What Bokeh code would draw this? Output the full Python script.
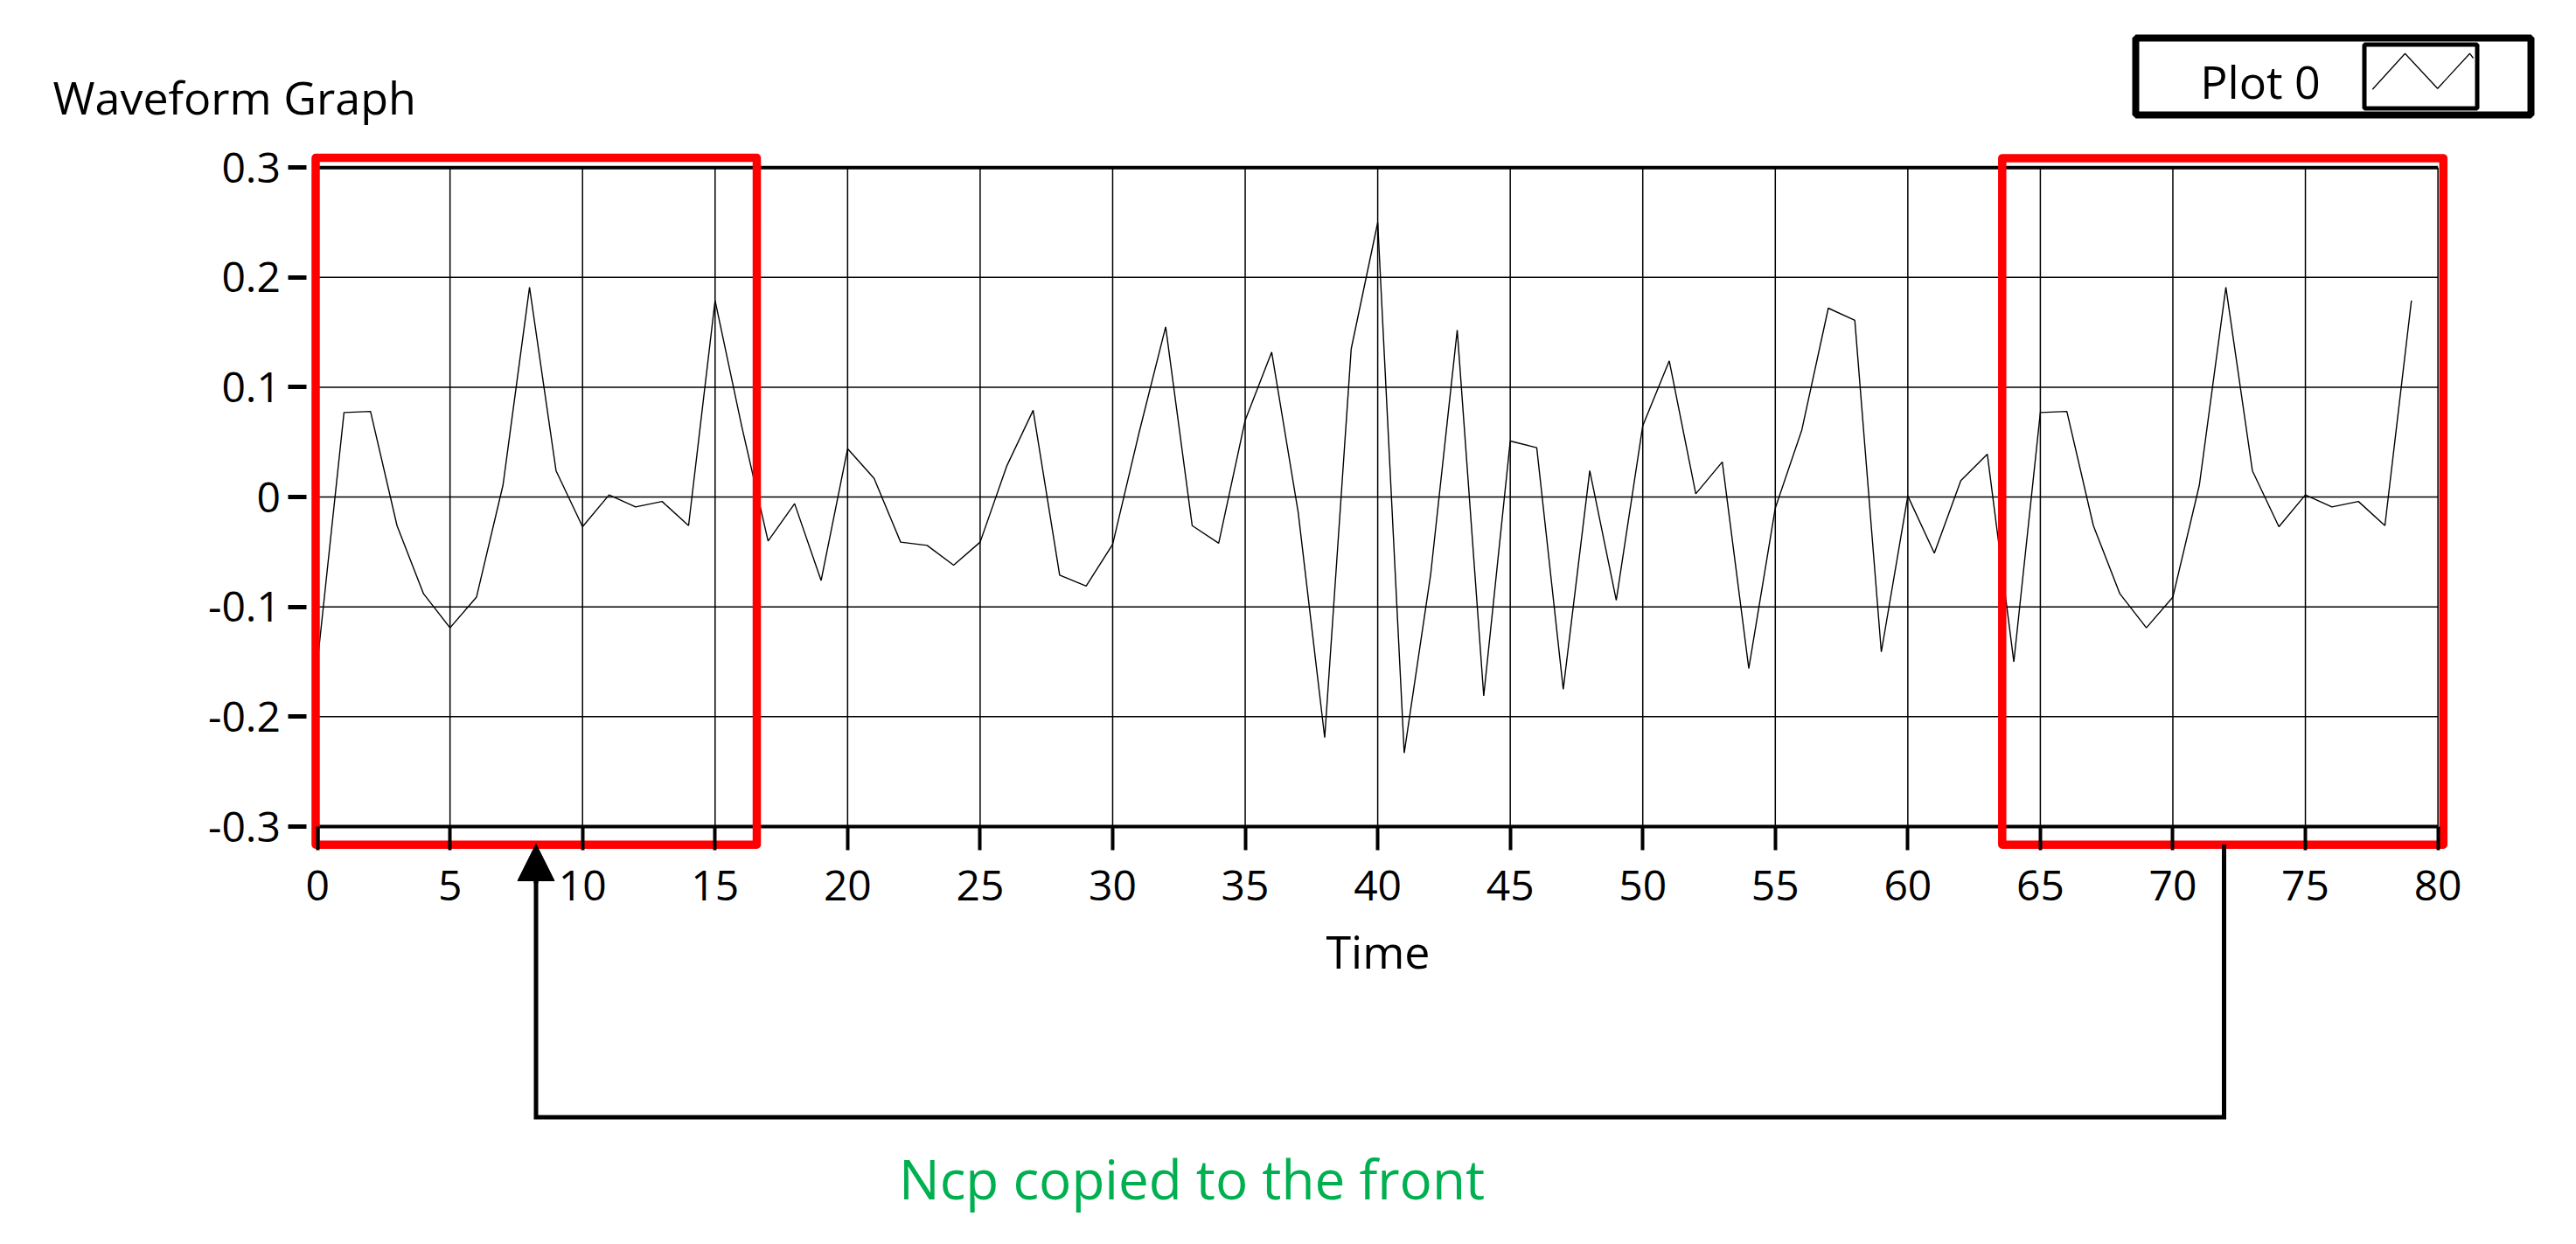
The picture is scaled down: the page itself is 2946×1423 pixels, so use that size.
from bokeh.plotting import figure
from bokeh.models import Range1d, LinearAxis, FixedTicker, Label, Arrow, NormalHead
from bokeh.embed import file_html
from bokeh.resources import INLINE

# ---------------- data ----------------
time = list(range(80))
amplitude = [
    -0.150, 0.077, 0.078, -0.026, -0.088, -0.119, -0.091, 0.011,
    0.191, 0.024, -0.027, 0.002, -0.009, -0.004, -0.026, 0.179,
    0.065, -0.040, -0.006, -0.076, 0.044, 0.017, -0.041, -0.044,
    -0.062, -0.041, 0.028, 0.079, -0.071, -0.081, -0.043, 0.059,
    0.155, -0.026, -0.042, 0.070, 0.132, -0.014, -0.219, 0.135,
    0.250, -0.233, -0.070, 0.152, -0.181, 0.051, 0.045, -0.175,
    0.024, -0.094, 0.065, 0.124, 0.003, 0.032, -0.156, -0.010,
    0.061, 0.172, 0.161, -0.141, 0.001, -0.051, 0.015, 0.039,
    -0.150, 0.077, 0.078, -0.026, -0.088, -0.119, -0.091, 0.011,
    0.191, 0.024, -0.027, 0.002, -0.009, -0.004, -0.026, 0.179,
]
x_ticks = [0, 5, 10, 15, 20, 25, 30, 35, 40, 45, 50, 55, 60, 65, 70, 75, 80]
x_tick_labels = ["0", "5", "10", "15", "20", "25", "30", "35", "40",
                 "45", "50", "55", "60", "65", "70", "75", "80"]
y_ticks = [-0.3, -0.2, -0.1, 0, 0.1, 0.2, 0.3]
y_tick_labels = ["-0.3", "-0.2", "-0.1", "0", "0.1", "0.2", "0.3"]
title_text = "Waveform Graph"
legend_text = "Plot 0"
x_axis_title = "Time"
note_text = "Ncp copied to the front"

# ---------------- layout (page pixels) ----------------
FONT = "Open Sans"
ORIGIN = 0          # page offset of the canvas (measured)
W, H = 2930, 1407
XMIN, XMAX = 0, 80
YMIN, YMAX = -0.3, 0.3
PLOT_L, PLOT_R = 362.6, 2787.6
PLOT_T, PLOT_B = 191.2, 945.0

sx = (PLOT_R - PLOT_L) / (XMAX - XMIN)
sy = (PLOT_B - PLOT_T) / (YMAX - YMIN)
x_start = XMIN - (PLOT_L - ORIGIN) / sx
x_end = x_start + W / sx
y_end = YMAX + (PLOT_T - ORIGIN) / sy
y_start = y_end - H / sy


def xd(px):
    return x_start + (px - ORIGIN) / sx


def yd(py):
    return y_end - (py - ORIGIN) / sy


p = figure(width=W, height=H, min_border=0, title=None,
           x_axis_location=None, y_axis_location=None,
           toolbar_location=None, output_backend="svg",
           x_range=Range1d(x_start, x_end), y_range=Range1d(y_start, y_end))
p.outline_line_color = None
p.background_fill_color = "white"
p.border_fill_color = "white"
p.grid.visible = False

# grid lines
n_x = len(x_ticks)
p.segment(x0=x_ticks, x1=x_ticks, y0=[YMIN] * n_x, y1=[YMAX] * n_x,
          line_color="black", line_width=1.5)
inner_y = [v for v in y_ticks if YMIN < v < YMAX]
p.segment(x0=[XMIN] * len(inner_y), x1=[XMAX] * len(inner_y), y0=inner_y, y1=inner_y,
          line_color="black", line_width=1.5)
# top / bottom borders
p.segment(x0=[XMIN, XMIN], x1=[XMAX, XMAX], y0=[YMIN, YMAX], y1=[YMIN, YMAX],
          line_color="black", line_width=4)

# waveform
p.line(time, amplitude, line_color="black", line_width=1.4)

# axes
xaxis = LinearAxis(fixed_location=YMIN, ticker=FixedTicker(ticks=x_ticks),
                   bounds=(XMIN, XMAX),
                   major_label_overrides={t: s for t, s in zip(x_ticks, x_tick_labels)},
                   axis_line_color=None, major_tick_in=0, major_tick_out=27,
                   major_tick_line_width=4, major_tick_line_color="black",
                   minor_tick_line_color=None,
                   major_label_text_font=FONT, major_label_text_font_size="48px",
                   major_label_text_color="black", major_label_standoff=23,
                   axis_label=x_axis_title, axis_label_text_font=FONT,
                   axis_label_text_font_size="52px", axis_label_text_font_style="normal",
                   axis_label_text_color="black", axis_label_standoff=19)
p.add_layout(xaxis, "below")

yaxis = LinearAxis(fixed_location=xd(350.4), ticker=FixedTicker(ticks=y_ticks),
                   bounds=(YMIN, YMAX),
                   major_label_overrides={t: s for t, s in zip(y_ticks, y_tick_labels)},
                   axis_line_color=None, major_tick_in=0, major_tick_out=21,
                   major_tick_line_width=5, major_tick_line_color="black",
                   minor_tick_line_color=None,
                   major_label_text_font=FONT, major_label_text_font_size="48px",
                   major_label_text_color="black", major_label_standoff=9)
p.add_layout(yaxis, "left")

# red boxes marking the cyclic prefix and its source
p.quad(left=[xd(360.5), xd(2289.3)], right=[xd(865.0), xd(2793.8)],
       top=[yd(180.0), yd(180.4)], bottom=[yd(965.7), yd(965.7)],
       fill_color=None, line_color="#FF0000", line_width=9.5, line_join="round")

# connector with arrow
cx_r, cx_l, cy_b = xd(2543.0), xd(612.5), yd(1277.5)
p.line(x=[cx_r, cx_r, cx_l, cx_l], y=[yd(965.7), cy_b, cy_b, yd(1000.0)],
       line_color="black", line_width=5, line_join="miter")
p.add_layout(Arrow(end=NormalHead(size=42, fill_color="black", line_color="black", line_width=1),
                   x_start=cx_l, y_start=yd(1010.0), x_end=cx_l, y_end=yd(965.0),
                   line_color="black", line_width=5))

# legend box (LabVIEW style)
p.quad(left=[xd(2442.0)], right=[xd(2894.0)], top=[yd(43.0)], bottom=[yd(131.0)],
       fill_color="white", line_color="black", line_width=8)
p.quad(left=[xd(2703.5)], right=[xd(2832.5)], top=[yd(50.5)], bottom=[yd(123.5)],
       fill_color="white", line_color="black", line_width=5)
p.line(x=[xd(2712.7), xd(2750.0), xd(2787.2), xd(2824.0), xd(2828.0)],
       y=[yd(101.7), yd(60.7), yd(100.7), yd(60.7), yd(66.0)],
       line_color="black", line_width=1.3)
p.add_layout(Label(x=xd(2584.5), y=yd(91.7), text=legend_text, text_font=FONT,
                   text_font_size="52px", text_color="black",
                   text_align="center", text_baseline="middle"))

# title
p.add_layout(Label(x=xd(60.0), y=yd(110.0), text=title_text, text_font=FONT,
                   text_font_size="52px", text_color="black",
                   text_align="left", text_baseline="middle"))

# green note
p.add_layout(Label(x=xd(1362.5), y=yd(1347.5), text=note_text, text_font=FONT,
                   text_font_size="62px", text_color="#00B050",
                   text_align="center", text_baseline="middle"))

open("out.html", "w").write(file_html(p, INLINE))
